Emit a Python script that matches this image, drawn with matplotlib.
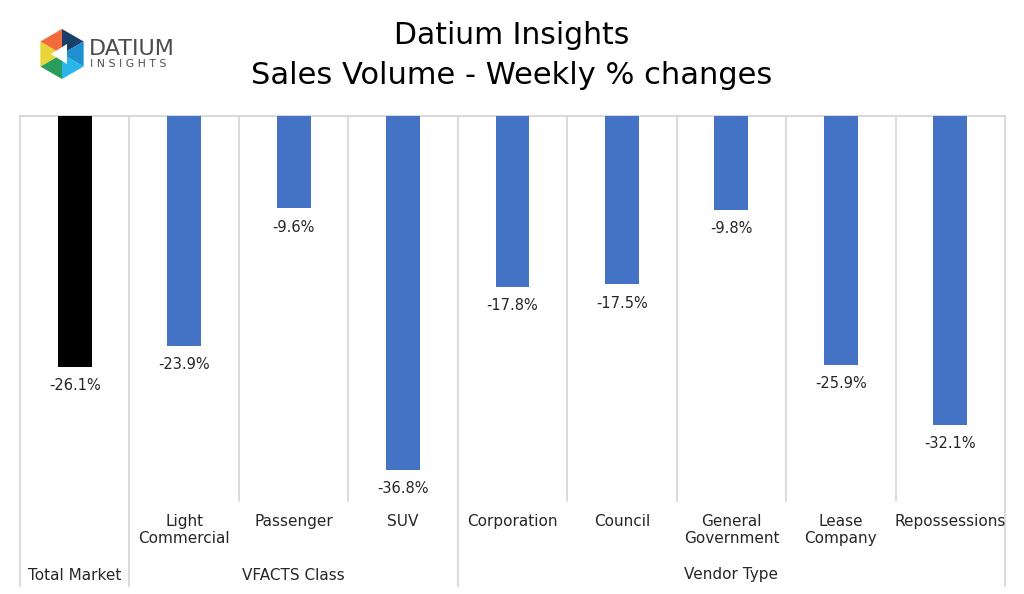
import numpy as np
import matplotlib
matplotlib.use("Agg")
import matplotlib.pyplot as plt
from matplotlib.transforms import blended_transform_factory
from matplotlib.patches import Polygon

# data
categories = ["Total Market", "Light\nCommercial", "Passenger", "SUV", "Corporation",
              "Council", "General\nGovernment", "Lease\nCompany", "Repossessions"]
values = [-26.1, -23.9, -9.6, -36.8, -17.8, -17.5, -9.8, -25.9, -32.1]
bar_colors = ["#000000"] + ["#4472C4"] * 8
groups = ["Total Market", "VFACTS Class", "Vendor Type"]
group_spans = [(0, 0), (1, 3), (4, 8)]

plt.rcParams['font.family'] = ['DejaVu Sans']

W, H = 1024, 594
fig = plt.figure(figsize=(W / 100, H / 100), dpi=100)
ax_l, ax_r, ax_t, ax_b = 20, 1005, 116, 501
ax = fig.add_axes([ax_l / W, 1 - ax_b / H, (ax_r - ax_l) / W, (ax_b - ax_t) / H])

x = np.arange(len(categories))
ax.bar(x, values, width=0.31, color=bar_colors, zorder=3)
ax.set_xlim(-0.5, len(categories) - 0.5)
ax.set_ylim(-40, 0)
ax.set_xticks([])
ax.set_yticks([])
for s in ["bottom", "left", "right"]:
    ax.spines[s].set_visible(False)
ax.spines["top"].set_color("#d9d9d9")
ax.spines["top"].set_linewidth(1.5)

for xi, v in zip(x, values):
    ax.annotate(f"{v:.1f}%", (xi, v), xytext=(0, -8), textcoords="offset points",
                ha="center", va="top", fontsize=10.5, color="#262626")

# separator lines
trans = blended_transform_factory(ax.transData, fig.transFigure)
grid_bottom = 1 - ax_b / H
full_bottom = 1 - 586 / H
top = 1 - ax_t / H
group_edges = {-0.5, 0.5, 3.5, 8.5}
for e in np.arange(-0.5, len(categories), 1.0):
    yb = full_bottom if e in group_edges else grid_bottom
    ax.plot([e, e], [yb, top], transform=trans, color="#d9d9d9", lw=1.3,
            clip_on=False, zorder=1)

# category labels
for xi, c in zip(x, categories):
    if xi == 0:
        continue
    ax.text(xi, 1 - 514 / H, c, transform=trans, ha="center", va="top",
            fontsize=11, color="#262626", linespacing=1.2)
for g, (a, b) in zip(groups, group_spans):
    ax.text((a + b) / 2, 1 - 575 / H, g, transform=trans, ha="center", va="center",
            fontsize=11, color="#262626")

# title
fig.text(0.5, 1 - 35 / H, "Datium Insights", ha="center", va="center", fontsize=21.5, color="black")
fig.text(0.5, 1 - 75 / H, "Sales Volume - Weekly % changes", ha="center", va="center",
         fontsize=22, color="black")

# logo (simplified hexagon)
cx, cy, r = 62, 54, 25
pts = [(cx + r * np.cos(np.radians(a)), cy + r * np.sin(np.radians(a))) for a in range(90, 450, 60)]
logo_colors = ["#2a9d5c", "#e8d53a", "#f26b3a", "#1b3f6b", "#1f8fd0", "#29b6e8"]
for i in range(6):
    p1, p2 = pts[i], pts[(i + 1) % 6]
    tri = [(cx, cy), p1, p2]
    fig.patches.append(Polygon([(px / W, 1 - py / H) for px, py in tri], closed=True,
                               transform=fig.transFigure, facecolor=logo_colors[i],
                               edgecolor="none"))
arrow = [(cx - 11, cy), (cx + 5, cy - 10), (cx + 5, cy + 10)]
fig.patches.append(Polygon([(px / W, 1 - py / H) for px, py in arrow], closed=True,
                           transform=fig.transFigure, facecolor="white", edgecolor="none"))
fig.text(89 / W, 1 - 49 / H, "DATIUM", ha="left", va="center", fontsize=16, color="#4d4d4d")
fig.text(90 / W, 1 - 64 / H, "I N S I G H T S", ha="left", va="center", fontsize=7.8,
         color="#4d4d4d")

fig.savefig("out.png", dpi=100, facecolor="white")
